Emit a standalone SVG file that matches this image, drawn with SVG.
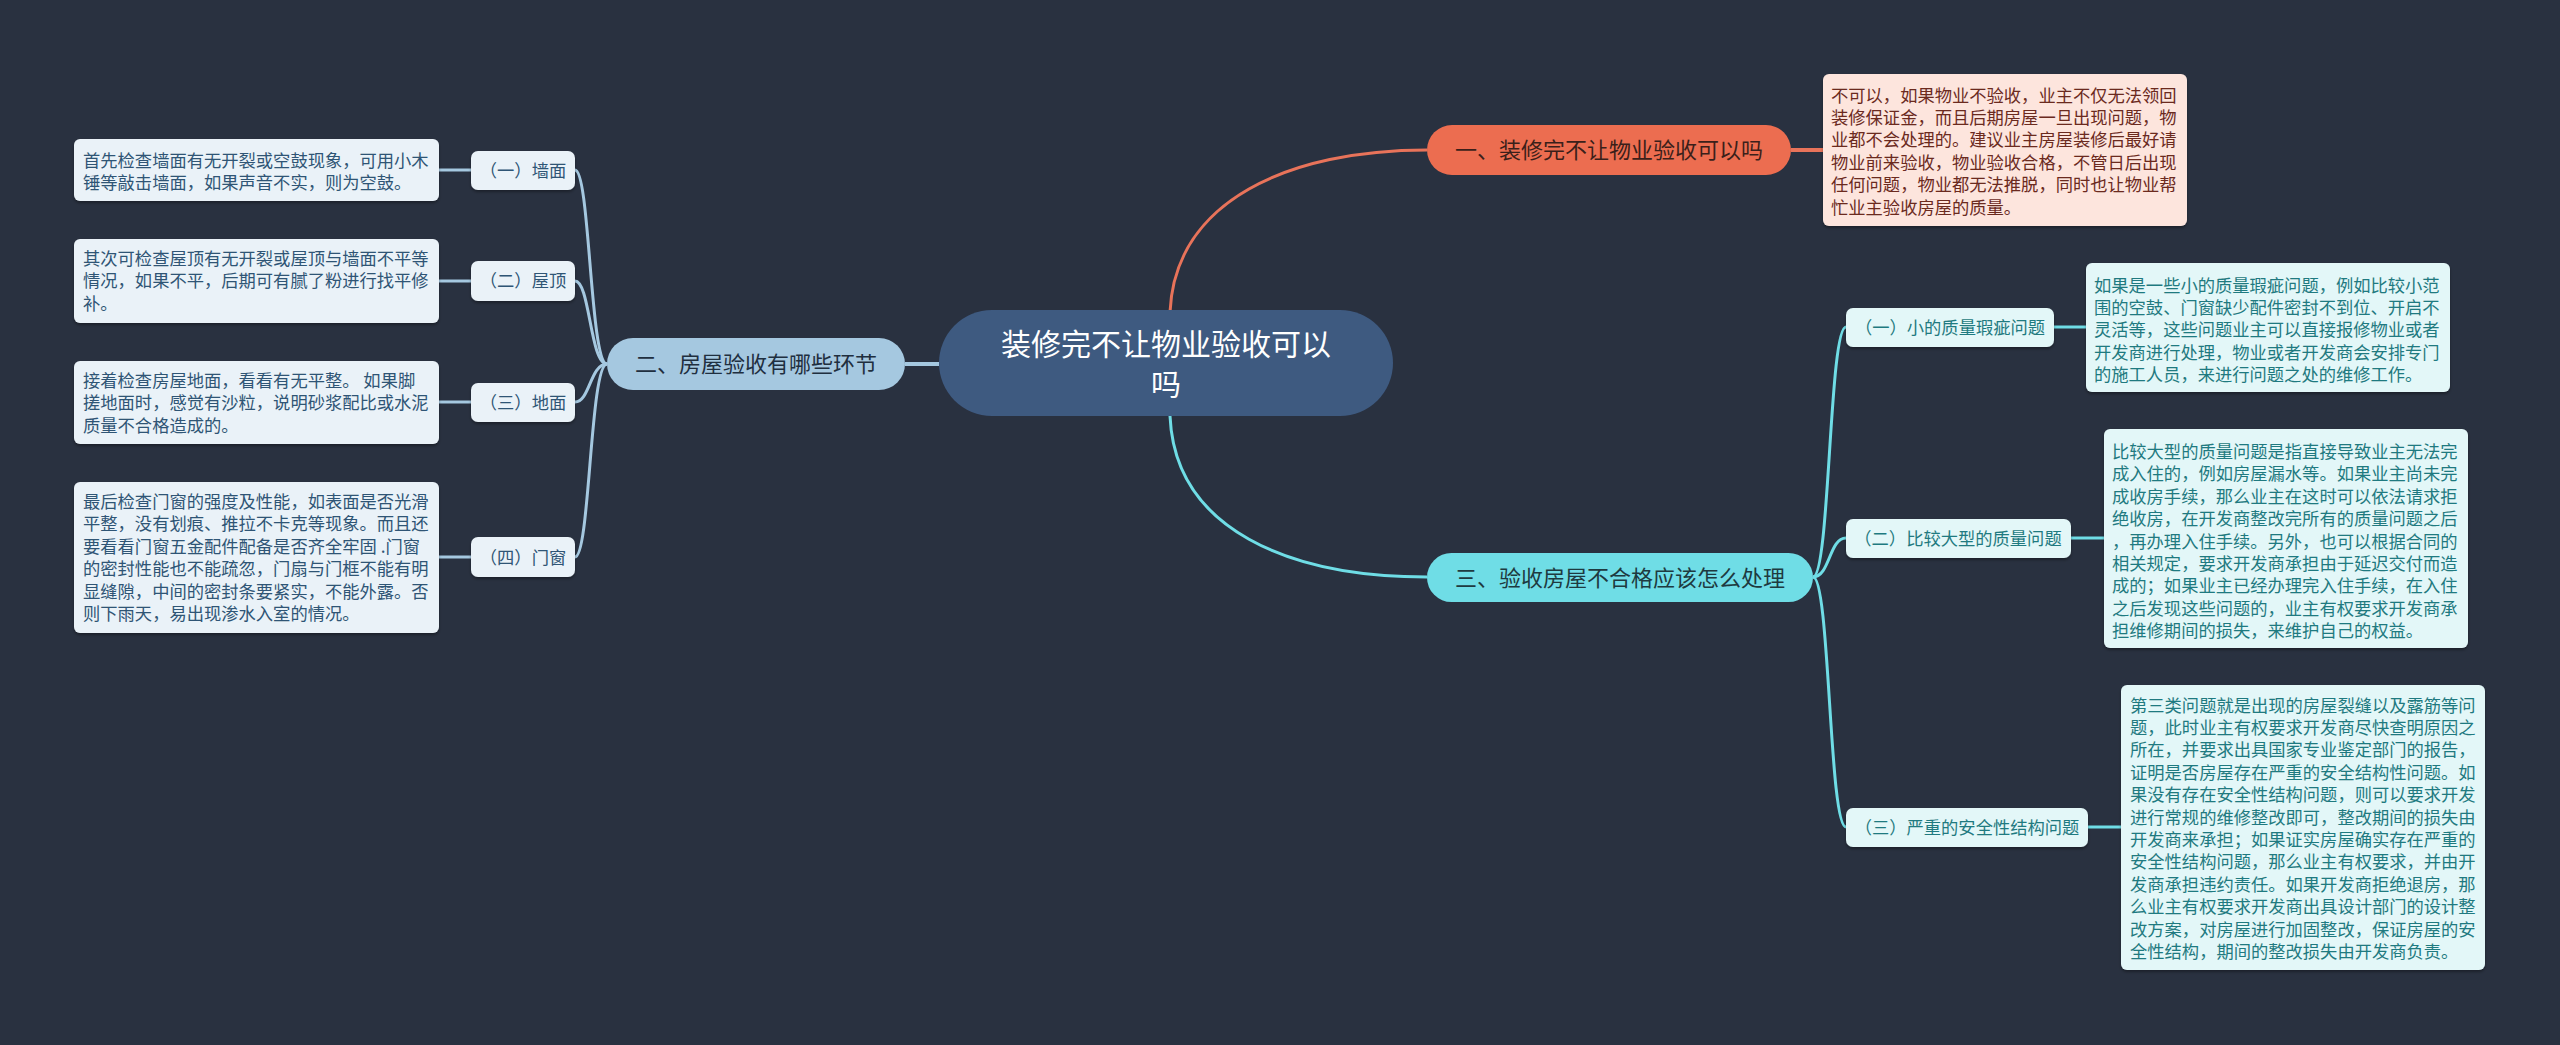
<svg xmlns="http://www.w3.org/2000/svg" width="2560" height="1045" viewBox="0 0 2560 1045">
<defs>
<style>
text{font-family:"Noto Sans CJK SC","Noto Sans",sans-serif;}
.c-left{fill:none;stroke:#a5c8e0;stroke-width:3}
.c-red{fill:none;stroke:#e8735a;stroke-width:3}
.c-cyan{fill:none;stroke:#6fdde6;stroke-width:3}
.leafL{fill:#eaf2f8}
.leafR{fill:#e3f7f8}
.leafT{fill:#fde5dd}
.tL{font-size:17.3px;fill:#2f5575}
.tR{font-size:17.3px;fill:#1f7a80}
.tT{font-size:17.3px;fill:#6b2a1e}
.subL{font-size:17.3px;fill:#2f5575;text-anchor:middle}
.subR{font-size:17.3px;fill:#1f7a80;text-anchor:middle}
.main{font-size:22px;text-anchor:middle}
</style>
<filter id="sh" x="-5%" y="-5%" width="110%" height="120%">
<feDropShadow dx="0" dy="2" stdDeviation="1.5" flood-color="#000" flood-opacity="0.35"/>
</filter>
</defs>
<rect width="2560" height="1045" fill="#293140"/>

<g id="connectors">
<path class="c-red" d="M1170,312 C1175,200 1290,150 1427,150"/>
<path class="c-cyan" d="M1170,416 C1175,530 1290,577 1427,577"/>
<path d="M905,364 H939" fill="none" stroke="#a5c8e0" stroke-width="4"/>
<path class="c-left" d="M607,364 C590,364 590,170 575,170"/>
<path class="c-left" d="M607,364 C590,364 590,281 575,281"/>
<path class="c-left" d="M607,364 C590,364 590,402 575,402"/>
<path class="c-left" d="M607,364 C590,364 590,557 575,557"/>
<path class="c-left" d="M439,170 H471"/>
<path class="c-left" d="M439,281 H471"/>
<path class="c-left" d="M439,402 H471"/>
<path class="c-left" d="M439,557 H471"/>
<path d="M1791,150 H1823" fill="none" stroke="#e8735a" stroke-width="4"/>
<path class="c-cyan" d="M1813,577 C1830,577 1829,327 1846,327"/>
<path class="c-cyan" d="M1813,577 C1830,577 1829,538 1846,538"/>
<path class="c-cyan" d="M1813,577 C1830,577 1829,827 1846,827"/>
<path class="c-cyan" d="M2054,327 H2086"/>
<path class="c-cyan" d="M2071,538 H2104"/>
<path class="c-cyan" d="M2088,827 H2121"/>
</g>

<g id="root">
<rect x="939" y="310" width="454" height="106" rx="53" fill="#3e5a80"/>
<text x="1166" y="355" font-size="30" fill="#ffffff" text-anchor="middle">装修完不让物业验收可以</text>
<text x="1166" y="395" font-size="30" fill="#ffffff" text-anchor="middle">吗</text>
</g>

<g id="b2">
<rect x="607" y="338" width="298" height="52" rx="26" fill="#a5c8e0"/>
<text class="main" x="756" y="372" fill="#1f2f3f">二、房屋验收有哪些环节</text>
</g>

<g id="b1">
<rect x="1427" y="125" width="364" height="50" rx="25" fill="#ec6d50"/>
<text class="main" x="1609" y="158" fill="#3b1f1a">一、装修完不让物业验收可以吗</text>
</g>

<g id="b3">
<rect x="1427" y="553" width="386" height="49" rx="24.5" fill="#6fdde6"/>
<text class="main" x="1620" y="586" fill="#1e3a40">三、验收房屋不合格应该怎么处理</text>
</g>

<g id="l1">
<rect x="471" y="151" width="104" height="39" rx="7" fill="#eaf2f8" filter="url(#sh)"/>
<text class="subL" x="523" y="177">（一）墙面</text>
</g>
<g id="l2">
<rect x="471" y="261" width="104" height="40" rx="7" fill="#eaf2f8" filter="url(#sh)"/>
<text class="subL" x="523" y="287">（二）屋顶</text>
</g>
<g id="l3">
<rect x="471" y="383" width="104" height="39" rx="7" fill="#eaf2f8" filter="url(#sh)"/>
<text class="subL" x="523" y="408.5">（三）地面</text>
</g>
<g id="l4">
<rect x="471" y="537" width="104" height="40" rx="7" fill="#eaf2f8" filter="url(#sh)"/>
<text class="subL" x="523" y="563.5">（四）门窗</text>
</g>

<g id="l1t">
<rect class="leafL" x="74" y="139" width="365" height="62" rx="6" filter="url(#sh)"/>
<text class="tL" x="83" y="166.5"><tspan x="83">首先检查墙面有无开裂或空鼓现象，可用小木</tspan><tspan x="83" dy="22.4">锤等敲击墙面，如果声音不实，则为空鼓。</tspan></text>
</g>
<g id="l2t">
<rect class="leafL" x="74" y="239" width="365" height="84" rx="6" filter="url(#sh)"/>
<text class="tL" x="83" y="265"><tspan x="83">其次可检查屋顶有无开裂或屋顶与墙面不平等</tspan><tspan x="83" dy="22.4">情况，如果不平，后期可有腻了粉进行找平修</tspan><tspan x="83" dy="22.4">补。</tspan></text>
</g>
<g id="l3t">
<rect class="leafL" x="74" y="361" width="365" height="83" rx="6" filter="url(#sh)"/>
<text class="tL" x="83" y="387"><tspan x="83">接着检查房屋地面，看看有无平整。 如果脚</tspan><tspan x="83" dy="22.4">搓地面时，感觉有沙粒，说明砂浆配比或水泥</tspan><tspan x="83" dy="22.4">质量不合格造成的。</tspan></text>
</g>
<g id="l4t">
<rect class="leafL" x="74" y="482" width="365" height="151" rx="6" filter="url(#sh)"/>
<text class="tL" x="83" y="508"><tspan x="83">最后检查门窗的强度及性能，如表面是否光滑</tspan><tspan x="83" dy="22.4">平整，没有划痕、推拉不卡克等现象。而且还</tspan><tspan x="83" dy="22.4">要看看门窗五金配件配备是否齐全牢固 .门窗</tspan><tspan x="83" dy="22.4">的密封性能也不能疏忽，门扇与门框不能有明</tspan><tspan x="83" dy="22.4">显缝隙，中间的密封条要紧实，不能外露。否</tspan><tspan x="83" dy="22.4">则下雨天，易出现渗水入室的情况。</tspan></text>
</g>

<g id="t1">
<rect class="leafT" x="1823" y="74" width="364" height="152" rx="6" filter="url(#sh)"/>
<text class="tT" x="1831" y="101.5"><tspan x="1831">不可以，如果物业不验收，业主不仅无法领回</tspan><tspan x="1831" dy="22.4">装修保证金，而且后期房屋一旦出现问题，物</tspan><tspan x="1831" dy="22.4">业都不会处理的。建议业主房屋装修后最好请</tspan><tspan x="1831" dy="22.4">物业前来验收，物业验收合格，不管日后出现</tspan><tspan x="1831" dy="22.4">任何问题，物业都无法推脱，同时也让物业帮</tspan><tspan x="1831" dy="22.4">忙业主验收房屋的质量。</tspan></text>
</g>

<g id="r1">
<rect x="1846" y="308" width="208" height="39" rx="7" fill="#e3f7f8" filter="url(#sh)"/>
<text class="subR" x="1950" y="334">（一）小的质量瑕疵问题</text>
</g>
<g id="r2">
<rect x="1846" y="519" width="225" height="39" rx="7" fill="#e3f7f8" filter="url(#sh)"/>
<text class="subR" x="1958" y="545">（二）比较大型的质量问题</text>
</g>
<g id="r3">
<rect x="1846" y="808" width="242" height="39" rx="7" fill="#e3f7f8" filter="url(#sh)"/>
<text class="subR" x="1967" y="834">（三）严重的安全性结构问题</text>
</g>

<g id="r1t">
<rect class="leafR" x="2086" y="263" width="364" height="129" rx="6" filter="url(#sh)"/>
<text class="tR" x="2094" y="291.5"><tspan x="2094">如果是一些小的质量瑕疵问题，例如比较小范</tspan><tspan x="2094" dy="22.4">围的空鼓、门窗缺少配件密封不到位、开启不</tspan><tspan x="2094" dy="22.4">灵活等，这些问题业主可以直接报修物业或者</tspan><tspan x="2094" dy="22.4">开发商进行处理，物业或者开发商会安排专门</tspan><tspan x="2094" dy="22.4">的施工人员，来进行问题之处的维修工作。</tspan></text>
</g>
<g id="r2t">
<rect class="leafR" x="2104" y="429" width="364" height="219" rx="6" filter="url(#sh)"/>
<text class="tR" x="2112" y="458"><tspan x="2112">比较大型的质量问题是指直接导致业主无法完</tspan><tspan x="2112" dy="22.4">成入住的，例如房屋漏水等。如果业主尚未完</tspan><tspan x="2112" dy="22.4">成收房手续，那么业主在这时可以依法请求拒</tspan><tspan x="2112" dy="22.4">绝收房，在开发商整改完所有的质量问题之后</tspan><tspan x="2112" dy="22.4">，再办理入住手续。另外，也可以根据合同的</tspan><tspan x="2112" dy="22.4">相关规定，要求开发商承担由于延迟交付而造</tspan><tspan x="2112" dy="22.4">成的；如果业主已经办理完入住手续，在入住</tspan><tspan x="2112" dy="22.4">之后发现这些问题的，业主有权要求开发商承</tspan><tspan x="2112" dy="22.4">担维修期间的损失，来维护自己的权益。</tspan></text>
</g>
<g id="r3t">
<rect class="leafR" x="2121" y="685" width="364" height="285" rx="6" filter="url(#sh)"/>
<text class="tR" x="2130" y="711.5"><tspan x="2130">第三类问题就是出现的房屋裂缝以及露筋等问</tspan><tspan x="2130" dy="22.4">题，此时业主有权要求开发商尽快查明原因之</tspan><tspan x="2130" dy="22.4">所在，并要求出具国家专业鉴定部门的报告，</tspan><tspan x="2130" dy="22.4">证明是否房屋存在严重的安全结构性问题。如</tspan><tspan x="2130" dy="22.4">果没有存在安全性结构问题，则可以要求开发</tspan><tspan x="2130" dy="22.4">进行常规的维修整改即可，整改期间的损失由</tspan><tspan x="2130" dy="22.4">开发商来承担；如果证实房屋确实存在严重的</tspan><tspan x="2130" dy="22.4">安全性结构问题，那么业主有权要求，并由开</tspan><tspan x="2130" dy="22.4">发商承担违约责任。如果开发商拒绝退房，那</tspan><tspan x="2130" dy="22.4">么业主有权要求开发商出具设计部门的设计整</tspan><tspan x="2130" dy="22.4">改方案，对房屋进行加固整改，保证房屋的安</tspan><tspan x="2130" dy="22.4">全性结构，期间的整改损失由开发商负责。</tspan></text>
</g>
</svg>
